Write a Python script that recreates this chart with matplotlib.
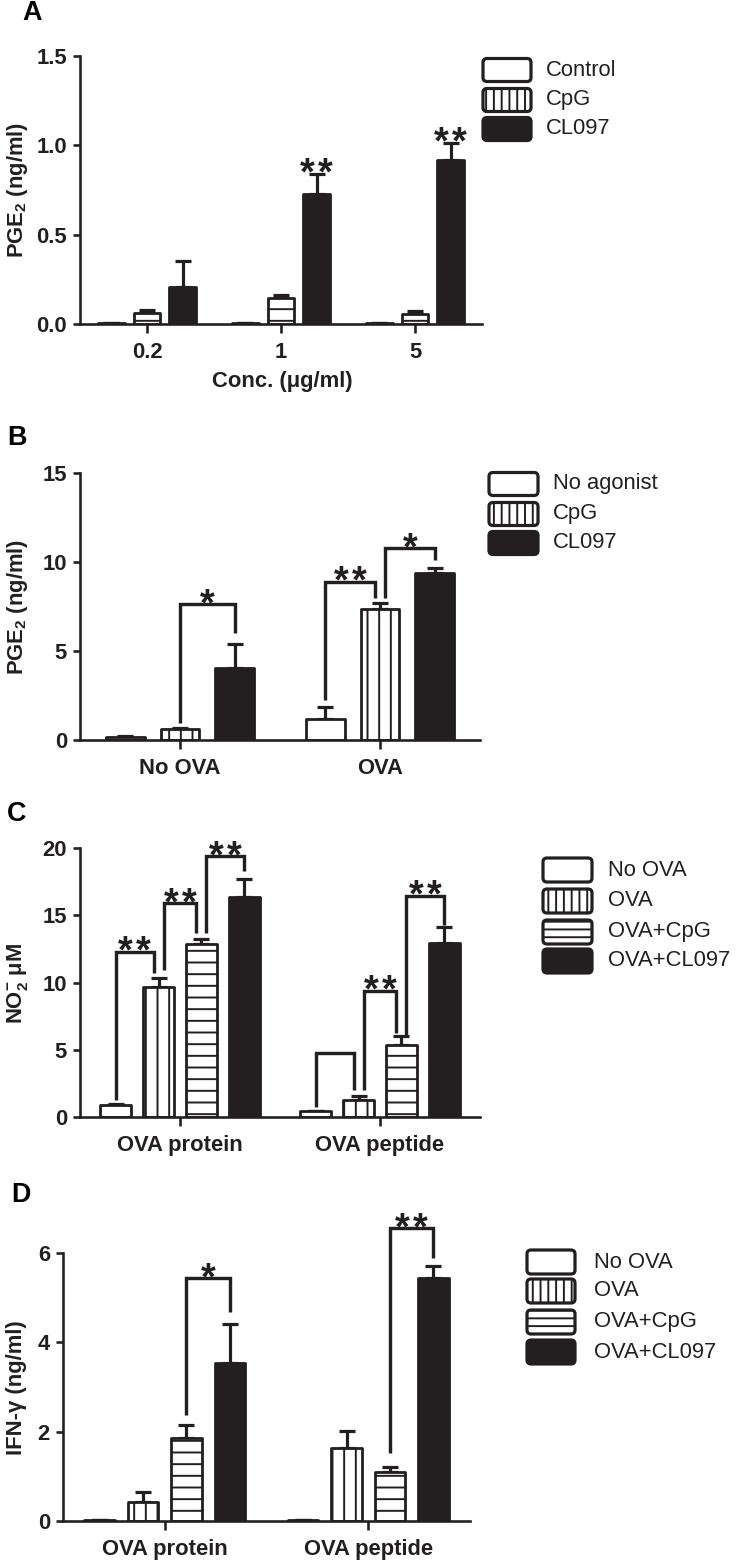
import numpy as np
import matplotlib
matplotlib.use("Agg")
import matplotlib.pyplot as plt
from matplotlib.patches import FancyBboxPatch
from matplotlib.transforms import Affine2D

# Figure geometry (pixels)
W, H, DPI = 742, 1565, 140
INK = "#231f20"

plt.rcParams['font.family'] = ['Liberation Sans', 'DejaVu Sans']
plt.rcParams['mathtext.fontset'] = 'custom'
plt.rcParams['mathtext.rm'] = 'Liberation Sans'
plt.rcParams['mathtext.bf'] = 'Liberation Sans:bold'
plt.rcParams['hatch.linewidth'] = 1.0
plt.rcParams['hatch.color'] = INK


def pt(px):
    return px * 72 / DPI


# Panel A data
a_groups = ["0.2", "1", "5"]
a_series = ["Control", "CpG", "CL097"]
a_control = [0.003, 0.003, 0.003]
a_cpg = [0.060, 0.144, 0.056]
a_cl097 = [0.209, 0.726, 0.918]
a_control_err = [0.0, 0.0, 0.0]
a_cpg_err = [0.018, 0.020, 0.018]
a_cl097_err = [0.145, 0.113, 0.093]
a_stars = ["", "**", "**"]

# Panel B data
b_groups = ["No OVA", "OVA"]
b_series = ["No agonist", "CpG", "CL097"]
b_none = [0.15, 1.16]
b_cpg = [0.60, 7.36]
b_cl097 = [4.03, 9.40]
b_none_err = [0.05, 0.71]
b_cpg_err = [0.07, 0.35]
b_cl097_err = [1.34, 0.28]
# (group, bar_left, bar_right, y_left, y_right, y_top, label)
b_brackets = [(0, 1, 2, 0.94, 6.0, 7.64, "*"),
              (1, 0, 1, 2.25, 7.96, 8.90, "**"),
              (1, 1, 2, 7.96, 10.1, 10.77, "*")]

# Panel C data
c_groups = ["OVA protein", "OVA peptide"]
cd_series = ["No OVA", "OVA", "OVA+CpG", "OVA+CL097"]
c_noova = [0.87, 0.45]
c_ova = [9.69, 1.24]
c_cpg = [12.87, 5.39]
c_cl097 = [16.35, 12.92]
c_noova_err = [0.08, 0.0]
c_ova_err = [0.62, 0.30]
c_cpg_err = [0.35, 0.62]
c_cl097_err = [1.34, 1.17]
c_brackets = [(0, 0, 1, 1.24, 10.68, 12.3, "**"),
              (0, 1, 2, 10.93, 13.67, 15.9, "**"),
              (0, 2, 3, 13.67, 18.26, 19.37, "**"),
              (1, 0, 1, 0.75, 1.99, 4.77, ""),
              (1, 1, 2, 1.99, 6.21, 9.39, "**"),
              (1, 2, 3, 5.96, 14.28, 16.45, "**")]

# Panel D data
d_groups = ["OVA protein", "OVA peptide"]
d_noova = [0.02, 0.03]
d_ova = [0.43, 1.63]
d_cpg = [1.85, 1.10]
d_cl097 = [3.53, 5.44]
d_noova_err = [0.0, 0.0]
d_ova_err = [0.23, 0.39]
d_cpg_err = [0.30, 0.12]
d_cl097_err = [0.88, 0.28]
d_brackets = [(0, 2, 3, 2.38, 4.69, 5.44, "*"),
              (1, 2, 3, 1.52, 5.89, 6.56, "**")]

# styles: (facecolor, bar hatch, legend hatch)
WHITE = ("white", None, None)
VERT = ("white", "||", "|||")
HORZ = ("white", "--", "---")
BLACK = (INK, None, None)

fig = plt.figure(figsize=(W / DPI, H / DPI), dpi=DPI)
px = Affine2D().scale(1 / W, -1 / H).translate(0, 1) + fig.transFigure


def make_axes(left, right, top, bottom):
    return fig.add_axes([left / W, 1 - bottom / H, (right - left) / W, (bottom - top) / H])


def style_axes(ax, groups, ylim, yticks, yfmt, ylabel, ylab_xy):
    ax.set_xlim(-0.5, len(groups) - 0.5)
    ax.set_ylim(*ylim)
    ax.set_yticks(yticks)
    ax.set_yticklabels([yfmt.format(t) for t in yticks])
    ax.set_xticks(np.arange(len(groups)))
    ax.set_xticklabels(groups)
    for s in ["top", "right"]:
        ax.spines[s].set_visible(False)
    for s in ["left", "bottom"]:
        ax.spines[s].set_linewidth(pt(2.6))
        ax.spines[s].set_color(INK)
    ax.tick_params(axis="y", length=pt(7), width=pt(2.6), pad=pt(6), color=INK)
    ax.tick_params(axis="x", length=pt(9), width=pt(2.6), pad=pt(9), color=INK)
    for lab in ax.get_xticklabels() + ax.get_yticklabels():
        lab.set_fontsize(pt(22))
        lab.set_fontweight("bold")
        lab.set_color(INK)
    ax.set_ylabel(ylabel, fontsize=pt(22), fontweight="bold", color=INK, va="center")
    ax.yaxis.set_label_coords(ylab_xy[0], ylab_xy[1], transform=px)
    ax.patch.set_alpha(0)


def draw_bars(ax, values, errors, styles, width, step):
    k = len(values)
    xs = []
    for i, (vals, errs, st) in enumerate(zip(values, errors, styles)):
        x = np.arange(len(vals)) + (i - (k - 1) / 2) * step
        xs.append(x)
        errs = np.asarray(errs)
        ax.errorbar(x, vals, yerr=[np.zeros_like(errs), errs], fmt="none",
                    ecolor=INK, elinewidth=pt(3.2), capsize=pt(8), capthick=pt(3.2), zorder=1)
        ax.bar(x, vals, width, facecolor=st[0], edgecolor=INK, linewidth=pt(2.8),
               hatch=st[1], joinstyle="round", zorder=2)
    return xs


def stars(ax, x, y, label, lift_px):
    # asterisks drawn one by one so the gap between them matches the figure
    n = len(label)
    for i in range(n):
        ax.annotate("*", xy=(x, y), xytext=((i - (n - 1) / 2) * 18, lift_px),
                    textcoords="offset pixels", ha="center", va="baseline",
                    fontsize=pt(38), fontweight="bold", color=INK, annotation_clip=False)


def draw_brackets(ax, brackets, step, k):
    shift = 0.025
    for g, i, j, yl, yr, yt, lab in brackets:
        x1 = g + (i - (k - 1) / 2) * step
        x2 = g + (j - (k - 1) / 2) * step
        # offset legs that share a bar with a neighbouring bracket
        if any(b[0] == g and b[2] == i for b in brackets):
            x1 += shift
        if any(b[0] == g and b[1] == j for b in brackets):
            x2 -= shift
        ax.plot([x1, x1, x2, x2], [yl, yt, yt, yr], color=INK, lw=pt(3.4),
                clip_on=False, solid_joinstyle="miter", solid_capstyle="butt", zorder=4)
        if lab:
            stars(ax, (x1 + x2) / 2, yt, lab, -11)


def draw_legend(labels, styles, box_x, row_y, box_w, box_h, text_x):
    for lab, st, y in zip(labels, styles, row_y):
        box = FancyBboxPatch((box_x, y - box_h / 2), box_w, box_h,
                             boxstyle="round,pad=0,rounding_size=4", transform=px,
                             facecolor=st[0], edgecolor=INK, linewidth=pt(3.2), hatch=st[2])
        fig.patches.append(box)
        fig.text(text_x, y, lab, transform=px, va="center", ha="left",
                 fontsize=pt(22), color=INK)


def panel_letter(letter, x, y):
    fig.text(x, y, letter, transform=px, ha="center", va="center",
             fontsize=pt(27), fontweight="bold", color="black")


# ---------------- Panel A ----------------
axA = make_axes(80, 482, 56, 324)
styA = [WHITE, ("white", "--", "|||"), BLACK]
xsA = draw_bars(axA, [a_control, a_cpg, a_cl097], [a_control_err, a_cpg_err, a_cl097_err],
                styA, 0.2, 0.267)
style_axes(axA, a_groups, (0, 1.5), [0.0, 0.5, 1.0, 1.5], "{:.1f}",
           r"PGE$_\mathbf{2}$ (ng/ml)", (18, 190))
axA.set_xlabel("Conc. (\u03bcg/ml)", fontsize=pt(22), fontweight="bold", color=INK, va="center")
axA.xaxis.set_label_coords(282, 382, transform=px)
for x, v, e, s in zip(xsA[2], a_cl097, a_cl097_err, a_stars):
    if s:
        stars(axA, x, v + e, s, -10)
draw_legend(a_series, [WHITE, VERT, BLACK], 483, [70, 100, 129], 48, 23, 546)
panel_letter("A", 32, 13)

# ---------------- Panel B ----------------
axB = make_axes(80, 480, 473, 740)
draw_bars(axB, [b_none, b_cpg, b_cl097], [b_none_err, b_cpg_err, b_cl097_err],
          [WHITE, VERT, BLACK], 0.194, 0.274)
style_axes(axB, b_groups, (0, 15), [0, 5, 10, 15], "{:d}",
           r"PGE$_\mathbf{2}$ (ng/ml)", (18, 607))
draw_brackets(axB, b_brackets, 0.274, 3)
draw_legend(b_series, [WHITE, VERT, BLACK], 489, [484, 514, 543], 49, 23, 553)
panel_letter("B", 17, 438)

# ---------------- Panel C ----------------
axC = make_axes(80, 480, 848, 1117)
draw_bars(axC, [c_noova, c_ova, c_cpg, c_cl097],
          [c_noova_err, c_ova_err, c_cpg_err, c_cl097_err],
          [WHITE, VERT, HORZ, BLACK], 0.154, 0.214)
style_axes(axC, c_groups, (0, 20), [0, 5, 10, 15, 20], "{:d}",
           r"NO$_\mathbf{2}^\mathbf{-}$ " + "\u03bcM", (17, 983))
draw_brackets(axC, c_brackets, 0.214, 4)
draw_legend(cd_series, [WHITE, VERT, HORZ, BLACK], 543, [870, 901, 932, 961], 49, 24, 608)
panel_letter("C", 17, 814)

# ---------------- Panel D ----------------
axD = make_axes(63, 470, 1253, 1521)
draw_bars(axD, [d_noova, d_ova, d_cpg, d_cl097],
          [d_noova_err, d_ova_err, d_cpg_err, d_cl097_err],
          [WHITE, VERT, HORZ, BLACK], 0.15, 0.213)
style_axes(axD, d_groups, (0, 6), [0, 2, 4, 6], "{:d}",
           "IFN-\u03b3 (ng/ml)", (17, 1388))
draw_brackets(axD, d_brackets, 0.213, 4)
draw_legend(cd_series, [WHITE, VERT, HORZ, BLACK], 527, [1262, 1291, 1322, 1352], 48, 24, 594)
panel_letter("D", 21, 1195)

fig.savefig("out.png", dpi=DPI, facecolor="white")
